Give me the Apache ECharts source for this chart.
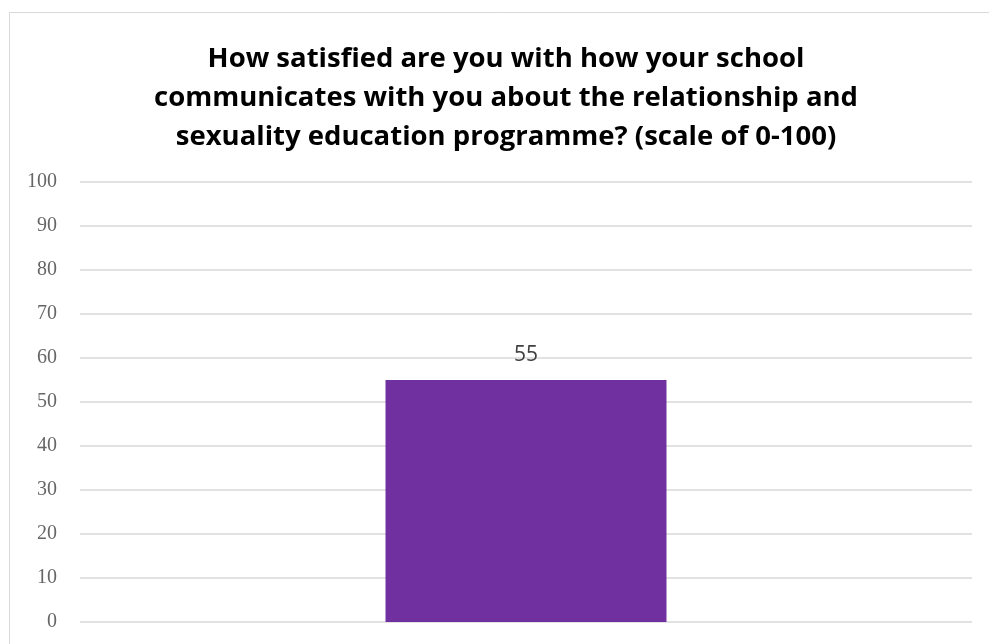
<!DOCTYPE html>
<html><head><meta charset="utf-8">
<script src="https://cdn.jsdelivr.net/npm/echarts@6/dist/echarts.min.js"></script>
<style>html,body{margin:0;padding:0;background:#fff}#c{width:989px;height:644px}</style>
</head><body><div id="c"></div>
<script>
const titleText = "How satisfied are you with how your school\ncommunicates with you about the relationship and\nsexuality education programme? (scale of 0-100)";
const categories = [""];
const values = [55];
const yMin = 0, yMax = 100, yStep = 10;

const chart = echarts.init(document.getElementById('c'), null, {renderer: 'canvas'});
chart.setOption({
  animation: false,
  backgroundColor: '#fff',
  graphic: [{type: 'rect', left: 7, top: 10, shape: {x: 0.5, y: 0.5, width: 1100, height: 800}, style: {fill: 'none', stroke: '#d9d9d9', lineWidth: 1}, silent: true}],
  title: {
    text: titleText, left: 501, top: 35, textAlign: 'center',
    textStyle: {fontFamily: 'Open Sans', fontWeight: 'bold', fontSize: 27.5, lineHeight: 39, color: '#000'}
  },
  grid: {left: 80, right: 17, top: 182, bottom: 22, containLabel: false},
  xAxis: {type: 'category', data: categories, axisLine: {show: false}, axisTick: {show: false}, axisLabel: {show: false}},
  yAxis: {
    type: 'value', min: yMin, max: yMax, interval: yStep,
    axisLine: {show: false}, axisTick: {show: false},
    splitLine: {lineStyle: {color: '#d9d9d9', width: 1.5}},
    axisLabel: {fontFamily: 'Liberation Serif', fontSize: 20, color: '#666666', margin: 23}
  },
  series: [{
    type: 'bar', data: values, barWidth: '31.5%',
    itemStyle: {color: '#7030A0'},
    label: {show: true, position: 'top', distance: 14, fontFamily: 'Open Sans', fontSize: 21, color: '#404040'}
  }]
});
</script></body></html>
